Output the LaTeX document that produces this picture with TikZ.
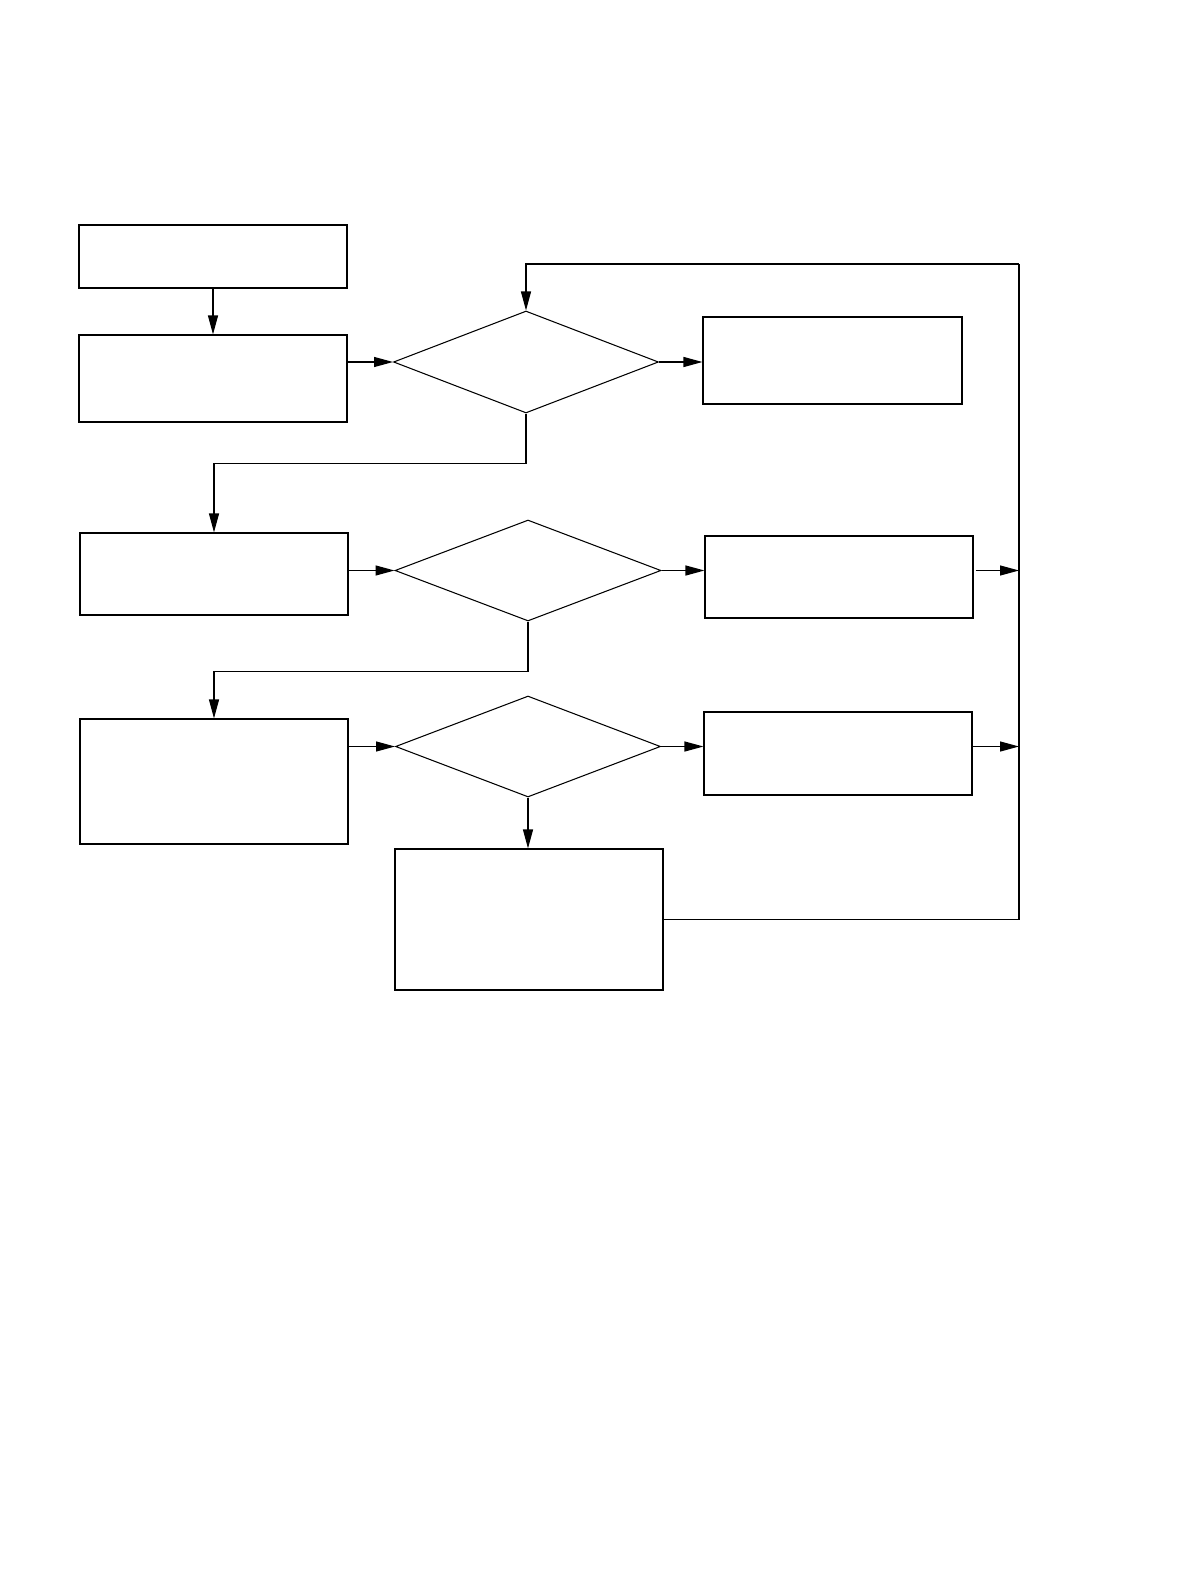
\documentclass[tikz,border=0pt]{standalone}
\usepackage{tikz}
\usetikzlibrary{arrows.meta, shapes.geometric, calc}
\tikzset{
  blk/.style={draw=black, line width=0.65pt, rectangle, inner sep=0pt},
  dec/.style={draw=black, line width=0.6pt, diamond, inner sep=0pt},
  flow/.style={-{Triangle[length=3.8mm, width=2mm]}, line width=0.7pt, draw=black},
  wire/.style={line width=0.7pt, draw=black},
}

\begin{document}
\begin{tikzpicture}[x=0.02cm, y=-0.02cm]
    \useasboundingbox (0,0) rectangle (1192,1588);
    % left column
    \node[blk, minimum width=5.36cm, minimum height=1.26cm] (a) at (213,256.5) {};
    \node[blk, minimum width=5.36cm, minimum height=1.74cm] (b) at (213,378.5) {};
    \node[blk, minimum width=5.36cm, minimum height=1.64cm] (d) at (214,574) {};
    \node[blk, minimum width=5.36cm, minimum height=2.5cm] (f) at (214,781.5) {};
    % decisions
    \node[dec, minimum width=5.3cm, minimum height=2.04cm] (q1) at (526,362) {};
    \node[dec, minimum width=5.32cm, minimum height=2.02cm] (q2) at (528,570.5) {};
    \node[dec, minimum width=5.3cm, minimum height=2.02cm] (q3) at (528,746.5) {};
    % right column
    \node[blk, minimum width=5.18cm, minimum height=1.74cm] (c) at (832.5,360.5) {};
    \node[blk, minimum width=5.36cm, minimum height=1.64cm] (e) at (839,577) {};
    \node[blk, minimum width=5.36cm, minimum height=1.66cm] (g) at (838,753.5) {};
    \node[blk, minimum width=5.36cm, minimum height=2.82cm] (h) at (529,919.5) {};
    \coordinate (rt) at (1019,264);
    \coordinate (rb) at (1019,918);

    \draw[flow] (a) -- (b);
    \draw[flow] (b.east |- q1.west) -- (q1.west);
    \draw[flow] (q1.east) -- (q1.east -| c.west);
    \draw[flow] (q1.south) -- ++(0,50) -| (d.north);
    \draw[flow] (d.east |- q2.west) -- (q2.west);
    \draw[flow] (q2.east) -- (q2.east -| e.west);
    \draw[flow] (q2.south) -- ++(0,50) -| (f.north);
    \draw[flow] (f.east |- q3.west) -- (q3.west);
    \draw[flow] (q3.east) -- (q3.east -| g.west);
    \draw[flow] (q3.south) -- (q3.south |- h.north);
    \draw[flow] ($(e.east |- q2.east)+(2,0)$) -- (q2.east -| rt);
    \draw[flow] (g.east |- q3.east) -- (q3.east -| rt);
    \draw[wire] (h.east) -- (h.east -| rb) -- (rt);
    \draw[flow] (rt) -- (rt -| q1.north) -- (q1.north);
  \end{tikzpicture}
\end{document}
